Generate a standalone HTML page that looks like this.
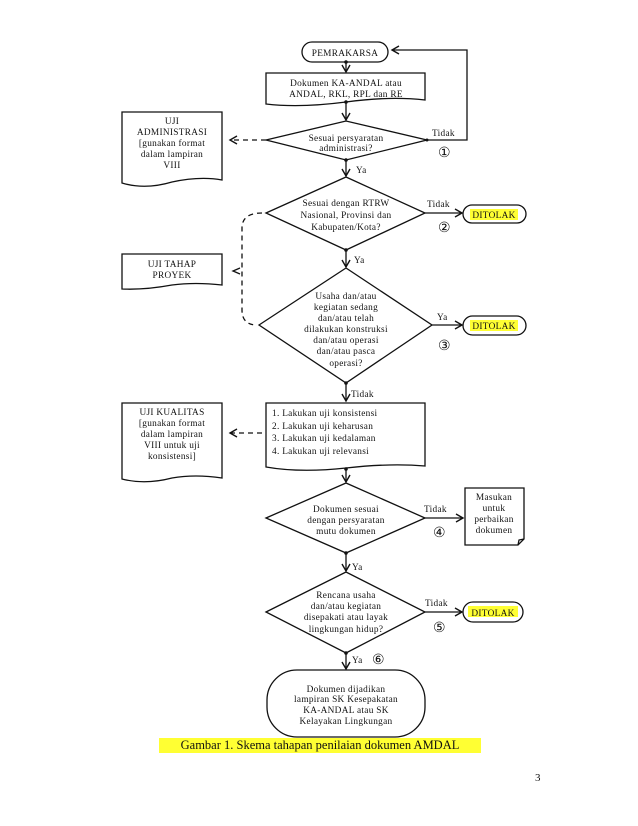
<!DOCTYPE html>
<html><head><meta charset="utf-8"><style>
html,body{margin:0;padding:0;background:#fff;}
svg{display:block;}
text{font-family:"Liberation Serif",serif;font-size:9.3px;fill:#111;letter-spacing:0.3px;}
.c{text-anchor:middle;}
</style></head><body>
<svg width="638" height="826" viewBox="0 0 638 826" xmlns="http://www.w3.org/2000/svg">
<defs>
<marker id="a" markerWidth="10" markerHeight="10" refX="8" refY="5" orient="auto" markerUnits="userSpaceOnUse"><path d="M1,1 L8,5 L1,9" fill="none" stroke="#111" stroke-width="1.4"/></marker>
</defs>
<g stroke="#111" stroke-width="1.3" fill="none">
<!-- Pemrakarsa -->
<rect x="302" y="42" width="86" height="20" rx="10" fill="#fff"/>
<!-- doc box -->
<path d="M266,73 H425 V100 Q390,96 346,102 Q300,108 266,104 Z" fill="#fff"/>
<!-- diamond1 -->
<path d="M266,140 L346,121 L427,140 L346,160 Z" fill="#fff"/>
<!-- loop back -->
<path d="M427,140 H467 V50 H392" marker-end="url(#a)"/>
<!-- uji admin doc -->
<path d="M122,112 H222 V180 Q200,176 172,182 Q145,190 122,183 Z"/>
<path d="M266,140 H230" stroke-dasharray="5,4" marker-end="url(#a)"/>
<!-- vertical arrows -->
<path d="M346,62 V72" marker-end="url(#a)"/>
<path d="M346,102 V120" marker-end="url(#a)"/>
<path d="M346,160 V176" marker-end="url(#a)"/>
<!-- diamond2 -->
<path d="M266,213 L346,177 L425,213 L346,250 Z" fill="#fff"/>
<path d="M425,213 H462" marker-end="url(#a)"/>
<rect x="463" y="205" width="63" height="18" rx="9" fill="#fff"/>
<path d="M346,250 V267" marker-end="url(#a)"/>
<!-- diamond3 -->
<path d="M259,325 L346,268 L432,325 L346,383 Z" fill="#fff"/>
<path d="M432,325 H462" marker-end="url(#a)"/>
<rect x="463" y="316" width="63" height="19" rx="9.5" fill="#fff"/>
<!-- uji tahap -->
<path d="M122,254 H222 V285 Q195,282 172,285 Q145,290 122,289 Z"/>
<path d="M262,213 Q242,213 242,228 V310 Q242,325 257,325" stroke-dasharray="5,4"/>
<path d="M240,268 L233,271 L240,274" />
<path d="M346,383 V401" marker-end="url(#a)"/>
<!-- list box -->
<path d="M266,403 H425 V466 Q390,463 346,468 Q300,473 266,467 Z" fill="#fff"/>
<path d="M122,403 H222 V478 Q195,474 172,478 Q145,485 122,479 Z"/>
<path d="M262,433 H230" stroke-dasharray="5,4" marker-end="url(#a)"/>
<path d="M346,469 V482" marker-end="url(#a)"/>
<!-- diamond4 -->
<path d="M266,518 L346,483 L425,518 L346,553 Z" fill="#fff"/>
<path d="M425,518 H463" marker-end="url(#a)"/>
<path d="M465,488 H524 V539 L518,545 H465 Z" fill="#fff"/>
<path d="M518,545 L519,540 L524,539"/>
<path d="M346,553 V571" marker-end="url(#a)"/>
<!-- diamond5 -->
<path d="M266,612 L346,572 L425,612 L346,653 Z" fill="#fff"/>
<path d="M425,612 H462" marker-end="url(#a)"/>
<rect x="463" y="602" width="60" height="20" rx="10" fill="#fff"/>
<path d="M346,653 V669" marker-end="url(#a)"/>
<rect x="267" y="670" width="158" height="67" rx="30" fill="#fff"/>
</g>
<g fill="#111">
<circle cx="346" cy="62" r="1.8"/><circle cx="346" cy="102" r="1.8"/><circle cx="346" cy="160" r="1.8"/>
<circle cx="346" cy="250" r="1.8"/><circle cx="346" cy="383" r="1.8"/><circle cx="346" cy="469" r="1.8"/>
<circle cx="346" cy="553" r="1.8"/><circle cx="346" cy="653" r="1.8"/><circle cx="427" cy="140" r="1.5"/>
</g>
<!-- highlights -->
<rect x="470" y="209" width="48" height="11" fill="#ffff33"/>
<rect x="470" y="320" width="48" height="11" fill="#ffff33"/>
<rect x="468" y="606" width="50" height="11" fill="#ffff33"/>
<rect x="159" y="738" width="322" height="15" fill="#ffff33"/>
<text class="c" x="345" y="56">PEMRAKARSA</text>
<text class="c" x="346" y="86">Dokumen KA-ANDAL atau</text>
<text class="c" x="346" y="97">ANDAL, RKL, RPL dan RE</text>
<text class="c" x="346" y="141">Sesuai persyaratan</text>
<text class="c" x="346" y="151">administrasi?</text>
<text x="432" y="136">Tidak</text>
<text x="438" y="157" style="font-size:14px">①</text>
<text class="c" x="172" y="124">UJI</text>
<text class="c" x="172" y="135">ADMINISTRASI</text>
<text class="c" x="172" y="146">[gunakan format</text>
<text class="c" x="172" y="157">dalam lampiran</text>
<text class="c" x="172" y="168">VIII</text>
<text x="356" y="173">Ya</text>
<text class="c" x="346" y="206">Sesuai dengan RTRW</text>
<text class="c" x="346" y="218">Nasional, Provinsi dan</text>
<text class="c" x="346" y="230">Kabupaten/Kota?</text>
<text x="427" y="207">Tidak</text>
<text x="438" y="232" style="font-size:14px">②</text>
<text class="c" x="494" y="218">DITOLAK</text>
<text x="354" y="263">Ya</text>
<text class="c" x="172" y="267">UJI TAHAP</text>
<text class="c" x="172" y="278">PROYEK</text>
<text class="c" x="346" y="299">Usaha dan/atau</text>
<text class="c" x="346" y="310">kegiatan sedang</text>
<text class="c" x="346" y="321">dan/atau telah</text>
<text class="c" x="346" y="332">dilakukan konstruksi</text>
<text class="c" x="346" y="343">dan/atau operasi</text>
<text class="c" x="346" y="354">dan/atau pasca</text>
<text class="c" x="346" y="366">operasi?</text>
<text x="437" y="320">Ya</text>
<text x="438" y="350" style="font-size:14px">③</text>
<text class="c" x="494" y="329">DITOLAK</text>
<text x="351" y="397">Tidak</text>
<text x="272" y="416">1.  Lakukan uji konsistensi</text>
<text x="272" y="429">2.  Lakukan uji keharusan</text>
<text x="272" y="441">3.  Lakukan uji kedalaman</text>
<text x="272" y="454">4.  Lakukan uji relevansi</text>
<text class="c" x="172" y="415">UJI KUALITAS</text>
<text class="c" x="172" y="426">[gunakan format</text>
<text class="c" x="172" y="437">dalam lampiran</text>
<text class="c" x="172" y="448">VIII untuk uji</text>
<text class="c" x="172" y="459">konsistensi]</text>
<text class="c" x="346" y="512">Dokumen sesuai</text>
<text class="c" x="346" y="523">dengan persyaratan</text>
<text class="c" x="346" y="534">mutu dokumen</text>
<text x="424" y="512">Tidak</text>
<text x="433" y="537" style="font-size:14px">④</text>
<text class="c" x="494" y="500">Masukan</text>
<text class="c" x="494" y="511">untuk</text>
<text class="c" x="494" y="522">perbaikan</text>
<text class="c" x="494" y="533">dokumen</text>
<text x="352" y="570">Ya</text>
<text class="c" x="346" y="598">Rencana usaha</text>
<text class="c" x="346" y="609">dan/atau kegiatan</text>
<text class="c" x="346" y="620">disepakati atau layak</text>
<text class="c" x="346" y="632">lingkungan hidup?</text>
<text x="425" y="606">Tidak</text>
<text x="433" y="632" style="font-size:14px">⑤</text>
<text class="c" x="493" y="616">DITOLAK</text>
<text x="352" y="663">Ya</text>
<text x="372" y="664" style="font-size:14px">⑥</text>
<text class="c" x="346" y="692">Dokumen dijadikan</text>
<text class="c" x="346" y="702">lampiran SK Kesepakatan</text>
<text class="c" x="346" y="713">KA-ANDAL atau SK</text>
<text class="c" x="346" y="724">Kelayakan Lingkungan</text>
<text class="c" x="320" y="749" style="font-size:12.5px;letter-spacing:0">Gambar 1. Skema tahapan penilaian dokumen AMDAL</text>
<text x="535" y="781" style="font-size:11px">3</text>
</svg>
</body></html>
